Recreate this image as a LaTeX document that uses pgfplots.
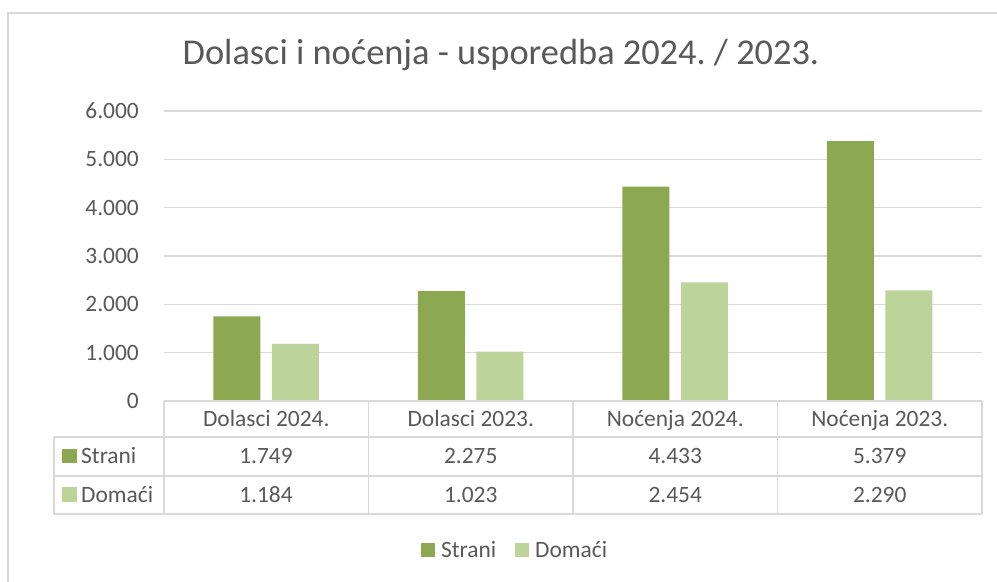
\documentclass[border=0pt]{standalone}
\usepackage{pgfplots}
\pgfplotsset{compat=1.18}
\usepackage{fontspec}
\setmainfont{Carlito}
\frenchspacing
\definecolor{txt}{HTML}{595959}
\definecolor{gridc}{HTML}{D9D9D9}
\definecolor{strani}{HTML}{8CA850}
\definecolor{domaci}{HTML}{BCD39A}
\newcommand{\fs}{\fontsize{23.5}{27}\selectfont}
\begin{document}
\begin{tikzpicture}[x=1bp,y=1bp]
\useasboundingbox (0,0) rectangle (997,582);
\fill[white] (0,0) rectangle (997,582);
\draw[gridc, line width=1.5bp] (8,-5) -- (8,569) -- (1002,569);
\node[text=txt, font=\fontsize{36.5}{40}\selectfont, anchor=base, inner sep=0pt] at (501,517) {Dolasci i noćenja - usporedba 2024.\ / 2023.};
\begin{axis}[
  at={(164bp,181bp)}, anchor=south west,
  width=818bp, height=290bp, scale only axis,
  ybar, bar width=47bp,
  xmin=-0.5, xmax=3.5, ymin=0, ymax=6000,
  xtick={0,1,2,3},
  xticklabels={Dolasci 2024.,Dolasci 2023.,Noćenja 2024.,Noćenja 2023.},
  ytick={0,1000,...,6000},
  major tick length=0pt,
  axis line style={draw=none},
  tick style={draw=none},
  ymajorgrids, xmajorgrids=false,
  major grid style={gridc, line width=1.3bp},
  ticklabel style={font=\fs, text=txt, inner sep=0pt},
  xticklabel style={anchor=base, yshift=-25.5bp},
  yticklabel style={anchor=east, xshift=-25bp},
  /pgf/number format/.cd, 1000 sep={.}, assume math mode=true,
  /pgfplots/.cd,
  legend style={at={(0.428,-0.514)}, anchor=center, draw=none, fill=none,
    legend columns=2, font=\fs, text=txt,
    nodes={inner sep=0pt},
    /tikz/every odd column/.append style={column sep=6bp},
    /tikz/every even column/.append style={column sep=19bp}},
  legend image code/.code={\fill[#1] (0bp,-7bp) rectangle (14bp,7bp);},
]
\addplot[fill=strani, draw=none, bar shift=-29.5bp] coordinates {(0,1749) (1,2275) (2,4433) (3,5379)};
\addplot[fill=domaci, draw=none, bar shift=29bp] coordinates {(0,1184) (1,1023) (2,2454) (3,2290)};
\legend{Strani,Domaći}
\end{axis}
\begin{scope}[gridc, line width=1.5bp]
\draw (164,181) -- (982,181);
\draw (54,145) -- (982,145);
\draw (54,106) -- (982,106);
\draw (54,68) -- (982,68);
\draw (54,145) -- (54,68);
\foreach \x in {164,368.5,573,777.5,982} {\draw (\x,181) -- (\x,68);}
\end{scope}
\begin{scope}[every node/.style={text=txt, font=\fs, inner sep=0pt, anchor=base}]
\node at (266,118) {1.749};
\node at (470.75,118) {2.275};
\node at (675.25,118) {4.433};
\node at (879.75,118) {5.379};
\node at (266,79.5) {1.184};
\node at (470.75,79.5) {1.023};
\node at (675.25,79.5) {2.454};
\node at (879.75,79.5) {2.290};
\fill[strani] (62,118.5) rectangle (77,133);
\fill[domaci] (62,80) rectangle (77,94.5);
\node[anchor=base west] at (81,118) {Strani};
\node[anchor=base west] at (81,79.5) {Domaći};
\end{scope}
\end{tikzpicture}
\end{document}
